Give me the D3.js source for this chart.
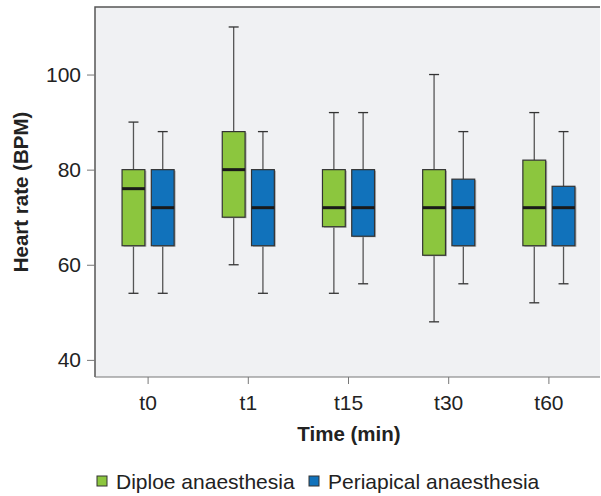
<!DOCTYPE html>
<html>
<head>
<meta charset="utf-8">
<script src="https://cdn.jsdelivr.net/npm/d3@7"></script>
<style>
body { margin: 0; background: #fff; }
svg { display: block; font-family: "Liberation Sans", Arial, sans-serif; }
</style>
</head>
<body>
<svg id="chart" width="601" height="496"></svg>
<script>
// categories and box stats
const times = ["t0", "t1", "t15", "t30", "t60"];
const groups = ["Diploe anaesthesia", "Periapical anaesthesia"];
const colors = ["#8cc63e", "#1172bb"];
// [low whisker, q1, median, q3, high whisker]
const diploe = [
  [54, 64, 76, 80, 90],
  [60, 70, 80, 88, 110],
  [54, 68, 72, 80, 92],
  [48, 62, 72, 80, 100],
  [52, 64, 72, 82, 92]
];
const periapical = [
  [54, 64, 72, 80, 88],
  [54, 64, 72, 80, 88],
  [56, 66, 72, 80, 92],
  [56, 64, 72, 78, 88],
  [56, 64, 72, 76.5, 88]
];
const yTicks = [40, 60, 80, 100];

const svg = d3.select("#chart");
const pLeft = 95, pTop = 7, pRight = 600, pBottom = 377;

const x = d3.scaleBand().domain(times).range([pLeft + 3, pRight - 1]);
const y = d3.scaleLinear().domain([36.4, 114.2]).range([pBottom, pTop]);
const sub = d3.scaleBand().domain([0, 1]).range([-27.5, 27.5]).paddingInner(0.22).paddingOuter(0.05);

// plot background
svg.append("rect")
  .attr("x", pLeft).attr("y", pTop)
  .attr("width", pRight - pLeft).attr("height", pBottom - pTop)
  .style("fill", "#f0f1f3");

// boxes
const series = [diploe, periapical];
series.forEach(function(data, gi) {
  times.forEach(function(t, i) {
    const d = data[i];
    const bx = x(t) + x.bandwidth() / 2 + sub(gi);
    const bw = sub.bandwidth();
    const cx = bx + bw / 2;
    const g = svg.append("g");
    // whisker lines
    g.append("line")
      .attr("x1", cx).attr("x2", cx)
      .attr("y1", y(d[4])).attr("y2", y(d[3]))
      .style("stroke", "#555").style("stroke-width", 1.3);
    g.append("line")
      .attr("x1", cx).attr("x2", cx)
      .attr("y1", y(d[1])).attr("y2", y(d[0]))
      .style("stroke", "#555").style("stroke-width", 1.3);
    [d[0], d[4]].forEach(function(v) {
      g.append("line")
        .attr("x1", cx - 5).attr("x2", cx + 5)
        .attr("y1", y(v)).attr("y2", y(v))
        .style("stroke", "#333").style("stroke-width", 1.3);
    });
    // shadow
    g.append("rect")
      .attr("x", bx + 1.5).attr("y", y(d[3]) + 1)
      .attr("width", bw).attr("height", y(d[1]) - y(d[3]))
      .style("fill", "#aaa");
    g.append("rect")
      .attr("x", bx).attr("y", y(d[3]))
      .attr("width", bw).attr("height", y(d[1]) - y(d[3]))
      .style("fill", colors[gi])
      .style("stroke", "#333").style("stroke-width", 1.2);
    g.append("line")
      .attr("x1", bx).attr("x2", bx + bw)
      .attr("y1", y(d[2])).attr("y2", y(d[2]))
      .style("stroke", "#1a1a1a").style("stroke-width", 3);
  });
});

// frame (left and top darker)
svg.append("path")
  .attr("d", `M${pLeft},${pBottom}V${pTop}H${pRight}`)
  .style("fill", "none").style("stroke", "#555").style("stroke-width", 1.5);
svg.append("line")
  .attr("x1", pLeft).attr("x2", pRight).attr("y1", pBottom).attr("y2", pBottom)
  .style("stroke", "#777").style("stroke-width", 1);

// y axis
const yAxis = svg.append("g")
  .attr("transform", `translate(${pLeft},0)`)
  .call(d3.axisLeft(y).tickValues(yTicks).tickSize(8).tickPadding(6));
yAxis.select(".domain").remove();
yAxis.selectAll(".tick line").style("stroke", "#777");
yAxis.selectAll(".tick text")
  .style("font-size", "21px").style("fill", "#222")
  .style("font-family", "Liberation Sans, Arial, sans-serif");

// x axis
const xAxis = svg.append("g")
  .attr("transform", `translate(0,${pBottom})`)
  .call(d3.axisBottom(x).tickSize(7).tickPadding(11));
xAxis.select(".domain").remove();
xAxis.selectAll(".tick line").style("stroke", "#777");
xAxis.selectAll(".tick text")
  .style("font-size", "21px").style("fill", "#222")
  .style("font-family", "Liberation Sans, Arial, sans-serif");

// axis titles
svg.append("text")
  .attr("transform", `translate(28,${(pTop + pBottom) / 2}) rotate(-90)`)
  .attr("text-anchor", "middle")
  .style("font-size", "20.5px").style("font-weight", "bold").style("fill", "#222")
  .text("Heart rate (BPM)");
svg.append("text")
  .attr("x", 349).attr("y", 441)
  .attr("text-anchor", "middle")
  .style("font-size", "20.5px").style("font-weight", "bold").style("fill", "#222")
  .text("Time (min)");

// legend
const legendX = [97, 309];
groups.forEach(function(name, gi) {
  svg.append("rect")
    .attr("x", legendX[gi]).attr("y", 476)
    .attr("width", 10).attr("height", 10)
    .style("fill", colors[gi]).style("stroke", "#333").style("stroke-width", 1);
  svg.append("text")
    .attr("x", legendX[gi] + 19).attr("y", 489)
    .style("font-size", "21px").style("fill", "#222")
    .text(name);
});
</script>
</body>
</html>
